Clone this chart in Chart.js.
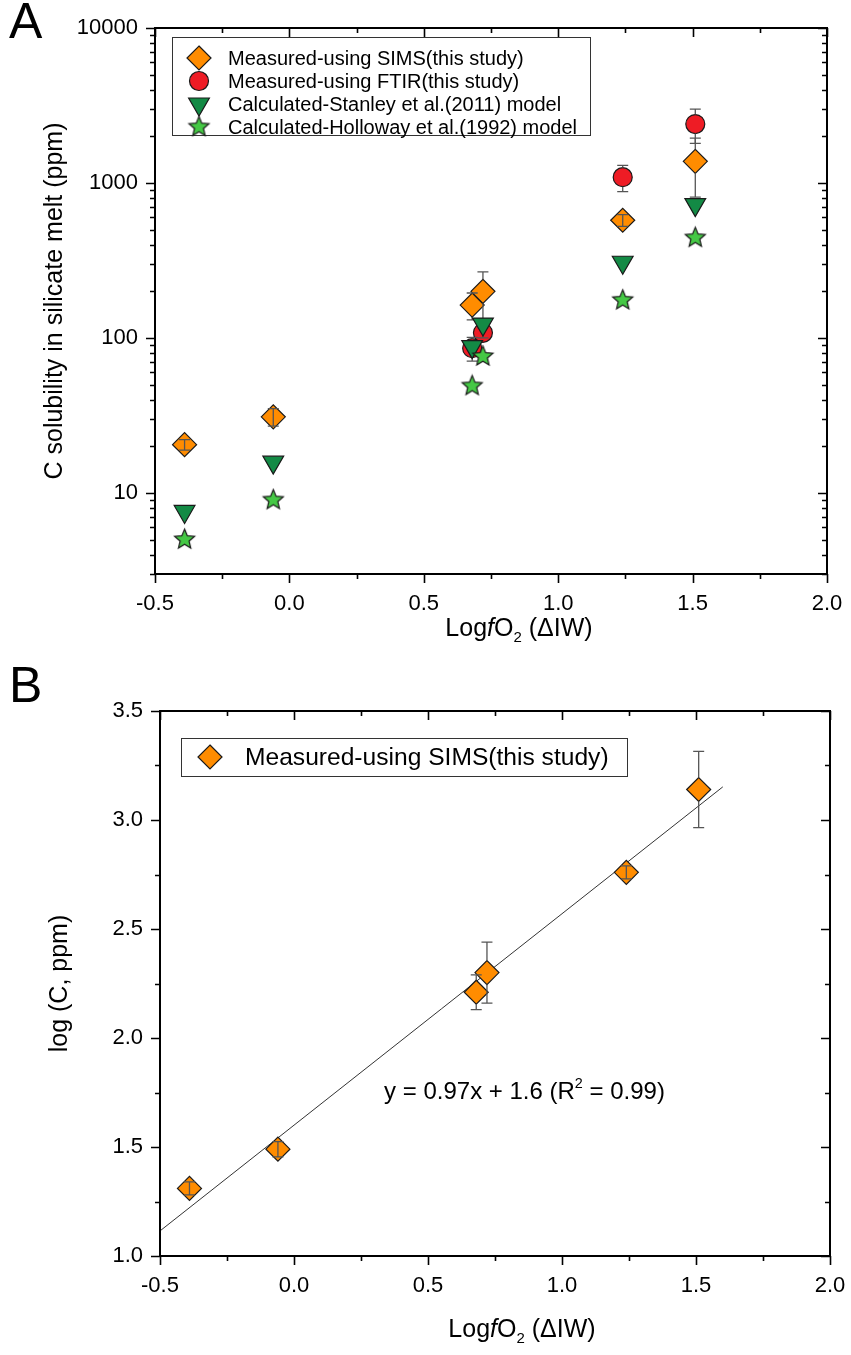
<!DOCTYPE html>
<html>
<head>
<meta charset="utf-8">
<script src="https://cdn.jsdelivr.net/npm/chart.js@4.4.0/dist/chart.umd.min.js"></script>
<style>
body { margin: 0; background: #fff; }
canvas { position: absolute; left: 0; }
</style>
</head>
<body>
<canvas id="chartA" width="851" height="660" style="top:0px"></canvas>
<canvas id="chartB" width="851" height="695" style="top:660px"></canvas>
<script>
// values
let xVals = [-0.39, -0.06, 0.68, 0.72, 1.24, 1.51];
let simsPpm = [20.5, 31, 163, 200, 575, 1380];
let simsPpmErr = [1.6, 4, 32, 67, 50, 570];
let ftirX = [0.68, 0.72, 1.24, 1.51];
let ftirPpm = [86, 108, 1090, 2400];
let ftirPpmErr = [15, 8, 210, 600];
let stanleyPpm = [7.6, 15.8, 88, 123, 308, 725];
let hollowayPpm = [5.0, 9.0, 49, 76, 175, 443];

let simsLog = [1.31, 1.49, 2.21, 2.30, 2.76, 3.14];
let simsLogErr = [0.03, 0.035, 0.08, 0.14, 0.03, 0.175];
let fitX = [-0.5, 1.6];
let fitY = [1.115, 3.152];

let xTicks = [-0.5, 0.0, 0.5, 1.0, 1.5, 2.0];
let yTicksA = [10, 100, 1000, 10000];
let yTicksB = [1.0, 1.5, 2.0, 2.5, 3.0, 3.5];

let fam = '"Liberation Sans", Arial, sans-serif';
let orange = '#FF8C00';
let red = '#EE1C25';
let dkGreen = '#138A45';
let ltGreen = '#45C845';
let edge = '#1a1a1a';

function makeStar(r, fill) {
    let c = document.createElement('canvas');
    let s = Math.ceil(2 * r + 4);
    c.width = s;
    c.height = s;
    let g = c.getContext('2d');
    g.beginPath();
    for (let k = 0; k < 10; k++) {
        let rr = k % 2 === 0 ? r : r * 0.45;
        let a = -Math.PI / 2 + k * Math.PI / 5;
        g.lineTo(s / 2 + rr * Math.cos(a), s / 2 + rr * Math.sin(a));
    }
    g.closePath();
    g.fillStyle = fill;
    g.fill();
    g.lineWidth = 1.2;
    g.strokeStyle = edge;
    g.stroke();
    return c;
}
let starImg = makeStar(10.5, ltGreen);

function pts(xs, ys) {
    return xs.map((x, i) => ({ x: x, y: ys[i] }));
}

function drawMarker(ctx, style, x, y, r, fill) {
    ctx.save();
    ctx.fillStyle = fill;
    ctx.strokeStyle = edge;
    ctx.lineWidth = 1.2;
    ctx.beginPath();
    if (style === 'rectRot') {
        ctx.moveTo(x, y - r); ctx.lineTo(x + r, y); ctx.lineTo(x, y + r); ctx.lineTo(x - r, y);
        ctx.closePath();
    } else if (style === 'circle') {
        ctx.arc(x, y, r, 0, Math.PI * 2);
    } else if (style === 'triDown') {
        ctx.moveTo(x - r * 0.866, y - r / 2); ctx.lineTo(x + r * 0.866, y - r / 2); ctx.lineTo(x, y + r);
        ctx.closePath();
    } else if (style === 'star') {
        ctx.drawImage(starImg, x - starImg.width / 2, y - starImg.height / 2);
        ctx.restore();
        return;
    }
    ctx.fill();
    ctx.stroke();
    ctx.restore();
}

function richText(ctx, parts, cx, baseY, size) {
    let total = 0;
    parts.forEach(p => {
        ctx.font = (p.it ? 'italic ' : '') + (p.small ? size * 0.6 : size) + 'px ' + fam;
        p.w = ctx.measureText(p.t).width;
        total += p.w;
    });
    let x = cx - total / 2;
    ctx.textAlign = 'left';
    parts.forEach(p => {
        ctx.font = (p.it ? 'italic ' : '') + (p.small ? size * 0.6 : size) + 'px ' + fam;
        ctx.fillText(p.t, x, baseY + (p.dy || 0) * size);
        x += p.w;
    });
}

let panelPlugin = {
    id: 'panel',
    afterDatasetDraw(chart, args) {
        let ds = chart.data.datasets[args.index];
        if (!ds.errors) return;
        let ctx = chart.ctx;
        let xs = chart.scales.x, ys = chart.scales.y;
        ctx.save();
        ctx.strokeStyle = '#555';
        ctx.lineWidth = 1.3;
        ds.data.forEach((p, i) => {
            let e = ds.errors[i];
            let px = xs.getPixelForValue(p.x);
            let pc = ys.getPixelForValue(p.y);
            let pt = ys.getPixelForValue(p.y + e);
            let pb = ys.getPixelForValue(p.y - e);
            let r = ds.pointRadius;
            ctx.beginPath();
            if (pc - pt > r) {
                ctx.moveTo(px, pt); ctx.lineTo(px, pc - r);
            } else {
                ctx.moveTo(px, pt); ctx.lineTo(px, pc);
            }
            if (pb - pc > r) {
                ctx.moveTo(px, pc + r); ctx.lineTo(px, pb);
            } else {
                ctx.moveTo(px, pc); ctx.lineTo(px, pb);
            }
            ctx.moveTo(px - 5.5, pt); ctx.lineTo(px + 5.5, pt);
            ctx.moveTo(px - 5.5, pb); ctx.lineTo(px + 5.5, pb);
            ctx.stroke();
        });
        ctx.restore();
    },
    afterDraw(chart, args, opts) {
        let ctx = chart.ctx;
        let a = chart.chartArea;
        let xs = chart.scales.x, ys = chart.scales.y;
        ctx.save();
        ctx.strokeStyle = '#000';
        ctx.lineWidth = 2;
        ctx.strokeRect(a.left, a.top, a.right - a.left, a.bottom - a.top);

        // ticks: outward on bottom/left, inward on top/right
        ctx.lineWidth = 1.6;
        ctx.beginPath();
        let tickX = (v, len) => {
            let p = Math.round(xs.getPixelForValue(v)) + 0.5;
            ctx.moveTo(p, a.bottom); ctx.lineTo(p, a.bottom + len);
            ctx.moveTo(p, a.top); ctx.lineTo(p, a.top + len);
        };
        let tickY = (v, len) => {
            let p = Math.round(ys.getPixelForValue(v)) + 0.5;
            ctx.moveTo(a.left, p); ctx.lineTo(a.left - len, p);
            ctx.moveTo(a.right, p); ctx.lineTo(a.right - len, p);
        };
        xTicks.forEach(v => tickX(v, 9));
        for (let v = -0.25; v < 2.0; v += 0.5) tickX(v, 5);
        opts.yMajor.forEach(v => tickY(v, 9));
        opts.yMinor.forEach(v => tickY(v, 5));
        ctx.stroke();

        // panel letter
        ctx.fillStyle = '#000';
        ctx.textBaseline = 'alphabetic';
        ctx.textAlign = 'left';
        ctx.font = '50px ' + fam;
        ctx.fillText(opts.letter, opts.letterX, opts.letterY);

        // x title
        richText(ctx, [
            { t: 'Log' }, { t: 'f', it: true }, { t: 'O' }, { t: '2', small: true, dy: 0.25 }, { t: ' (\u0394IW)' }
        ], opts.xTitleX, opts.xTitleY, 25);

        // y title
        ctx.save();
        ctx.translate(opts.yTitleX, (a.top + a.bottom) / 2);
        ctx.rotate(-Math.PI / 2);
        ctx.textAlign = 'center';
        ctx.textBaseline = 'middle';
        ctx.font = '25px ' + fam;
        ctx.fillText(opts.yTitle, 0, 0);
        ctx.restore();

        // legend
        let lg = opts.legend;
        ctx.lineWidth = 1;
        ctx.strokeStyle = '#333';
        ctx.strokeRect(lg.x + 0.5, lg.y + 0.5, lg.w, lg.h);
        lg.items.forEach((it, i) => {
            let cy = lg.y + lg.first + i * lg.step;
            drawMarker(ctx, it.style, lg.x + lg.mx, cy, it.r, it.fill);
            ctx.fillStyle = '#000';
            ctx.font = lg.size + 'px ' + fam;
            ctx.textAlign = 'left';
            ctx.textBaseline = 'middle';
            ctx.fillText(it.text, lg.x + lg.tx, cy + 1);
        });

        // equation
        if (opts.eq) {
            ctx.textBaseline = 'alphabetic';
            ctx.fillStyle = '#000';
            let ex = xs.getPixelForValue(opts.eq.x);
            let ey = ys.getPixelForValue(opts.eq.y);
            richText(ctx, [
                { t: 'y = 0.97x + 1.6 (R' }, { t: '2', small: true, dy: -0.45 }, { t: ' = 0.99)' }
            ], ex, ey, 24);
        }
        ctx.restore();
    }
};

let tickFont = { family: fam, size: 22 };

// minor ticks of the log axis (2..9 in each decade)
let yMinorA = [];
[1, 10, 100, 1000].forEach(d => {
    for (let m = 2; m <= 9; m++) {
        if (m * d >= 3 && m * d < 10000) yMinorA.push(m * d);
    }
});
let yMinorB = [1.25, 1.75, 2.25, 2.75, 3.25];

function fixX(h) {
    return s => { s.height = h; s.paddingLeft = 0; s.paddingRight = 0; };
}
function fixY(w) {
    return s => { s.width = w; s.paddingTop = 0; s.paddingBottom = 0; };
}

let ctxA = document.getElementById('chartA').getContext('2d');
let ctxB = document.getElementById('chartB').getContext('2d');

let chartA = new Chart(ctxA, {
    type: 'scatter',
    data: {
        datasets: [{
            label: 'Measured-using SIMS(this study)',
            data: pts(xVals, simsPpm),
            errors: simsPpmErr,
            pointStyle: 'rectRot',
            pointRadius: 12,
            backgroundColor: orange,
            borderColor: edge,
            borderWidth: 1.2,
            order: 4
        }, {
            label: 'Measured-using FTIR(this study)',
            data: pts(ftirX, ftirPpm),
            errors: ftirPpmErr,
            pointStyle: 'circle',
            pointRadius: 9.5,
            backgroundColor: red,
            borderColor: edge,
            borderWidth: 1.2,
            order: 3
        }, {
            label: 'Calculated-Stanley et al.(2011) model',
            data: pts(xVals, stanleyPpm),
            pointStyle: 'triangle',
            rotation: 180,
            pointRadius: 12,
            backgroundColor: dkGreen,
            borderColor: edge,
            borderWidth: 1.2,
            order: 2
        }, {
            label: 'Calculated-Holloway et al.(1992) model',
            data: pts(xVals, hollowayPpm),
            pointStyle: starImg,
            pointRadius: 10,
            backgroundColor: ltGreen,
            order: 1
        }]
    },
    options: {
        responsive: false,
        animation: false,
        devicePixelRatio: 1,
        layout: { padding: { top: 28, right: 24, left: 0, bottom: 0 } },
        plugins: {
            legend: { display: false },
            tooltip: { enabled: false },
            panel: {
                letter: 'A', letterX: 9, letterY: 38,
                xTitleX: 519, xTitleY: 636,
                yTitle: 'C solubility in silicate melt (ppm)', yTitleX: 55,
                yMajor: yTicksA, yMinor: yMinorA,
                legend: {
                    x: 172, y: 37, w: 418, h: 98, size: 20, first: 21, step: 23, mx: 27, tx: 56,
                    items: [
                        { style: 'rectRot', r: 12, fill: orange, text: 'Measured-using SIMS(this study)' },
                        { style: 'circle', r: 9.5, fill: red, text: 'Measured-using FTIR(this study)' },
                        { style: 'triDown', r: 12, fill: dkGreen, text: 'Calculated-Stanley et al.(2011) model' },
                        { style: 'star', r: 10, fill: ltGreen, text: 'Calculated-Holloway et al.(1992) model' }
                    ]
                }
            }
        },
        scales: {
            x: {
                type: 'linear', min: -0.5, max: 2.0,
                afterBuildTicks: s => { s.ticks = xTicks.map(v => ({ value: v })); },
                afterFit: fixX(86),
                grid: { display: false, drawTicks: false },
                border: { display: false },
                ticks: { padding: 17, color: '#000', font: tickFont, maxRotation: 0, callback: v => v.toFixed(1) }
            },
            y: {
                type: 'logarithmic', min: 3, max: 10000,
                afterBuildTicks: s => { s.ticks = yTicksA.map(v => ({ value: v })); },
                afterFit: fixY(155),
                grid: { display: false, drawTicks: false },
                border: { display: false },
                ticks: { padding: 17, color: '#000', font: tickFont, callback: v => String(v) }
            }
        }
    },
    plugins: [panelPlugin]
});

let chartB = new Chart(ctxB, {
    type: 'scatter',
    data: {
        datasets: [{
            label: 'Measured-using SIMS(this study)',
            data: pts(xVals, simsLog),
            errors: simsLogErr,
            pointStyle: 'rectRot',
            pointRadius: 12,
            backgroundColor: orange,
            borderColor: edge,
            borderWidth: 1.2,
            order: 1
        }, {
            type: 'line',
            label: 'fit',
            data: pts(fitX, fitY),
            borderColor: '#333',
            borderWidth: 1,
            pointRadius: 0,
            fill: false,
            order: 2
        }]
    },
    options: {
        responsive: false,
        animation: false,
        devicePixelRatio: 1,
        layout: { padding: { top: 51, right: 21, left: 0, bottom: 0 } },
        plugins: {
            legend: { display: false },
            tooltip: { enabled: false },
            panel: {
                letter: 'B', letterX: 9, letterY: 42,
                xTitleX: 522, xTitleY: 677,
                yTitle: 'log (C, ppm)', yTitleX: 60,
                yMajor: yTicksB, yMinor: yMinorB,
                eq: { x: 0.86, y: 1.72 },
                legend: {
                    x: 181, y: 78, w: 446, h: 38, size: 24.6, first: 19, step: 0, mx: 29, tx: 64,
                    items: [
                        { style: 'rectRot', r: 12, fill: orange, text: 'Measured-using SIMS(this study)' }
                    ]
                }
            }
        },
        scales: {
            x: {
                type: 'linear', min: -0.5, max: 2.0,
                afterBuildTicks: s => { s.ticks = xTicks.map(v => ({ value: v })); },
                afterFit: fixX(99),
                grid: { display: false, drawTicks: false },
                border: { display: false },
                ticks: { padding: 17, color: '#000', font: tickFont, maxRotation: 0, callback: v => v.toFixed(1) }
            },
            y: {
                type: 'linear', min: 1.0, max: 3.5,
                afterBuildTicks: s => { s.ticks = yTicksB.map(v => ({ value: v })); },
                afterFit: fixY(160),
                grid: { display: false, drawTicks: false },
                border: { display: false },
                ticks: { padding: 17, color: '#000', font: tickFont, callback: v => v.toFixed(1) }
            }
        }
    },
    plugins: [panelPlugin]
});
</script>
</body>
</html>
